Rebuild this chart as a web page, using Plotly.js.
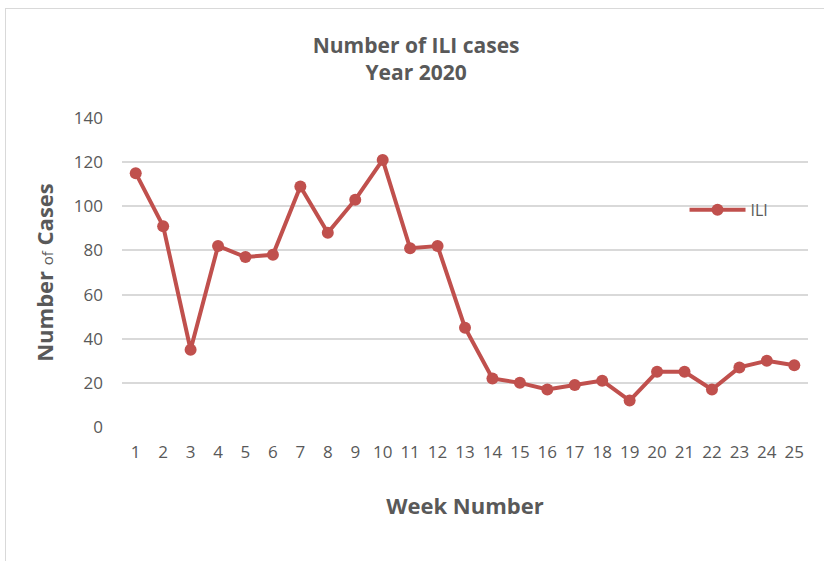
<!DOCTYPE html>
<html>
<head>
<meta charset="utf-8">
<script src="https://cdn.plot.ly/plotly-3.0.1.min.js"></script>
<style>
  body { margin: 0; background: #fff; }
  #frame { position: absolute; left: 5px; top: 8px; width: 830px; height: 560px; border: 1px solid #d9d9d9; }
  #chart { position: absolute; left: 0; top: 0; width: 824px; height: 561px; }
</style>
</head>
<body>
<div id="frame"></div>
<div id="chart"></div>
<script>
// 週番号とILI症例数
const weeks = ['1', '2', '3', '4', '5', '6', '7', '8', '9', '10', '11', '12', '13',
    '14', '15', '16', '17', '18', '19', '20', '21', '22', '23', '24', '25'];
const iliCases = [115, 91, 35, 82, 77, 78, 109, 88, 103, 121, 81, 82, 45,
    22, 20, 17, 19, 21, 12, 25, 25, 17, 27, 30, 28];
const yTicks = [0, 20, 40, 60, 80, 100, 120, 140];

const textColor = '#595959';
const fontFamily = '"Open Sans", "Liberation Sans", sans-serif';

const trace = {
    x: weeks,
    y: iliCases,
    type: 'scatter',
    mode: 'lines+markers',
    name: 'ILI',
    line: { color: '#c0504d', width: 4 },
    marker: { color: '#c0504d', size: 12 }
};

const layout = {
    width: 824,
    height: 561,
    paper_bgcolor: 'rgba(0,0,0,0)',
    plot_bgcolor: 'rgba(0,0,0,0)',
    font: { family: fontFamily, color: textColor, size: 14 },
    title: {
        text: '<b>Number of ILI cases</b><br><b>Year 2020</b>',
        font: { size: 21, color: textColor },
        x: 0.505, xanchor: 'center',
        y: 0.906, yanchor: 'middle'
    },
    margin: { l: 122, r: 16, t: 118, b: 134 },
    xaxis: {
        type: 'category',
        range: [-0.5, 24.5],
        showgrid: false,
        zeroline: false,
        showline: false,
        ticks: '',
        ticklabelstandoff: 13,
        tickfont: { size: 17, color: textColor },
        title: {
            text: '<b>Week Number</b>',
            font: { size: 22, color: textColor },
            standoff: 36
        }
    },
    yaxis: {
        range: [0, 140],
        tickvals: yTicks,
        showgrid: true,
        gridcolor: '#d9d9d9',
        gridwidth: 1.5,
        zeroline: false,
        showline: false,
        ticks: '',
        ticklabelstandoff: 18,
        tickfont: { size: 17, color: textColor },
        title: {
            text: '<b>Number</b> <span style="font-size:15px">of</span> <b>Cases</b>',
            font: { size: 22, color: textColor },
            standoff: 14
        }
    },
    showlegend: true,
    legend: {
        x: 0.82, y: 0.703,
        xanchor: 'left', yanchor: 'middle',
        itemwidth: 56,
        bgcolor: 'rgba(0,0,0,0)',
        font: { size: 16, color: textColor }
    }
};

Plotly.newPlot('chart', [trace], layout, { displayModeBar: false });
</script>
</body>
</html>
